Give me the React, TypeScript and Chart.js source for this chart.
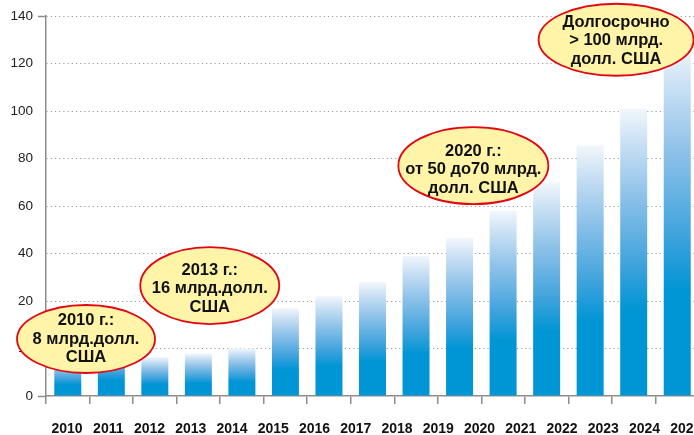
import React, { useEffect, useRef } from "react";
import { Chart, registerables, LinearScale } from "chart.js";

// ---- data ----
const years = [2010, 2011, 2012, 2013, 2014, 2015, 2016, 2017, 2018, 2019, 2020, 2021, 2022, 2023, 2024, 2025];
const barValues = [8, 11, 8.2, 8.9, 10, 18.5, 22, 28, 39, 46.5, 58, 70, 85.5, 101, 128];
const yTicks = [0, 10, 20, 40, 60, 80, 100, 120, 140];

const noteX = [2010.46, 2013.46, 2019.85, 2023.31];
const noteY = [12, 26.5, 77, 130];
const noteLines = [
  ["2010 г.:", "8 млрд.долл.", "США"],
  ["2013 г.:", "16 млрд.долл.", "США"],
  ["2020 г.:", "от 50 до70 млрд.", "долл. США"],
  ["Долгосрочно", "> 100 млрд.", "долл. США"],
];
const noteRx = [69, 69.5, 75, 77.5];
const noteRy = [34, 38.5, 38.5, 36];
const noteTextDy = [0, 3, 4, 1];

const AXIS = "#8c8c8c";
const BLUE = "#0095D5";

// y axis: 0–20 stretched (steps of 10), above 20 steps of 20, all ticks equally spaced
class BrokenScale extends LinearScale {
  static id = "broken";
  static defaults = LinearScale.defaults;
  buildTicks() {
    return yTicks.map((v) => ({ value: v }));
  }
  toUnit(v: number) {
    return v <= 20 ? v / 10 : 2 + (v - 20) / 20;
  }
  fromUnit(u: number) {
    return u <= 2 ? u * 10 : 20 + (u - 2) * 20;
  }
  getPixelForValue(value: any) {
    if (value === null || value === undefined || isNaN(value)) return NaN;
    const u0 = this.toUnit(this.min);
    const u1 = this.toUnit(this.max);
    return this.getPixelForDecimal((this.toUnit(value) - u0) / (u1 - u0));
  }
  getValueForPixel(pixel: number) {
    const d = this.getDecimalForPixel(pixel);
    const u0 = this.toUnit(this.min);
    const u1 = this.toUnit(this.max);
    return this.fromUnit(u0 + d * (u1 - u0));
  }
}

// year label axis: spans exactly the chart area
class YearScale extends LinearScale {
  static id = "yearAxis";
  static defaults = LinearScale.defaults;
  getPixelForValue(value: any) {
    const a = this.chart && this.chart.chartArea;
    if (!a) return super.getPixelForValue(value);
    if (value === null || value === undefined || isNaN(value)) return NaN;
    return a.left + ((value - this.min) / (this.max - this.min)) * (a.right - a.left);
  }
  getValueForPixel(pixel: number) {
    const a = this.chart && this.chart.chartArea;
    if (!a) return super.getValueForPixel(pixel);
    return this.min + ((pixel - a.left) / (a.right - a.left)) * (this.max - this.min);
  }
}

Chart.register(...registerables, BrokenScale as any, YearScale as any);

const notesPlugin = {
  id: "notes",
  afterDraw(chart: any) {
    const ctx = chart.ctx;
    const xs = chart.scales.x2;
    const ys = chart.scales.y;
    ctx.save();
    for (let i = 0; i < noteLines.length; i++) {
      const cx = xs.getPixelForValue(noteX[i]);
      const cy = ys.getPixelForValue(noteY[i]);
      ctx.beginPath();
      ctx.ellipse(cx, cy, noteRx[i], noteRy[i], 0, 0, Math.PI * 2);
      ctx.fillStyle = "#FFF4A8";
      ctx.fill();
      ctx.lineWidth = 1.8;
      ctx.strokeStyle = "#E30613";
      ctx.stroke();
      ctx.fillStyle = "#111";
      ctx.font = 'bold 16.5px "Liberation Sans", Arial, sans-serif';
      ctx.textAlign = "center";
      ctx.textBaseline = "middle";
      const lines = noteLines[i];
      const lh = 18.5;
      const start = cy + noteTextDy[i] - ((lines.length - 1) * lh) / 2;
      lines.forEach((t, k) => ctx.fillText(t, cx, start + k * lh));
    }
    ctx.restore();
  },
};

export default function App() {
  const ref = useRef<HTMLCanvasElement | null>(null);
  useEffect(() => {
    if (!ref.current) return;
    const chart = new Chart(ref.current, {
      type: "bar",
      data: {
        labels: barValues.map((_, i) => String(i)),
        datasets: [
          {
            data: barValues,
            xAxisID: "x",
            yAxisID: "y",
            barPercentage: 0.62,
            categoryPercentage: 1,
            borderWidth: 0,
            backgroundColor: (c: any) => {
              const ch = c.chart;
              if (!ch.chartArea || c.type !== "data") return BLUE;
              const y = ch.scales.y;
              const top = y.getPixelForValue(c.raw);
              const bottom = y.getPixelForValue(0);
              const g = ch.ctx.createLinearGradient(0, bottom, 0, top);
              g.addColorStop(0, BLUE);
              g.addColorStop(0.3, BLUE);
              g.addColorStop(0.45, "#3DA2DC");
              g.addColorStop(0.7, "#8FC2E9");
              g.addColorStop(0.88, "#C9E0F4");
              g.addColorStop(1, "#F2F7FC");
              return g;
            },
          },
        ],
      },
      options: {
        animation: false,
        responsive: false,
        devicePixelRatio: 1,
        layout: { padding: { top: 16, left: 0, right: 0, bottom: 0 } },
        plugins: { legend: { display: false }, tooltip: { enabled: false } },
        scales: {
          x: {
            type: "category",
            position: "bottom",
            weight: 0,
            offset: true,
            grid: {
              offset: true,
              drawOnChartArea: false,
              tickLength: 8,
              color: AXIS,
              lineWidth: 1.5,
            },
            border: { color: AXIS, width: 1.5 },
            ticks: { display: false },
            afterFit: (s: any) => {
              s.height = 8;
            },
          },
          x2: {
            type: "yearAxis" as any,
            position: "bottom",
            weight: 1,
            min: 2009.49,
            max: 2025.32,
            bounds: "data",
            grid: { display: false, drawTicks: false },
            border: { display: false },
            ticks: {
              autoSkip: false,
              maxRotation: 0,
              minRotation: 0,
              padding: 17,
              color: "#111",
              font: { family: '"Liberation Sans", Arial, sans-serif', size: 14, weight: "bold" },
              callback: (v: any) => String(v),
            },
            afterBuildTicks: (s: any) => {
              s.ticks = years.map((v) => ({ value: v }));
            },
            afterFit: (s: any) => {
              s.height = 31;
              s.paddingLeft = 0;
              s.paddingRight = 0;
            },
          },
          y: {
            type: "broken" as any,
            min: 0,
            max: 140,
            border: { color: AXIS, width: 1.5, dash: [1.2, 3] },
            grid: {
              color: (c: any) => (c.tick && c.tick.value === 0 ? "rgba(0,0,0,0)" : "#9a9a9a"),
              lineWidth: 1,
              tickLength: 8,
              tickWidth: 1.5,
              tickColor: (c: any) =>
                c.tick && (c.tick.value === 0 || c.tick.value === 140) ? AXIS : "rgba(0,0,0,0)",
            },
            ticks: {
              padding: 5,
              color: "#222",
              font: { family: '"Liberation Sans", Arial, sans-serif', size: 13.5 },
              callback: (v: any) => String(v),
            },
            afterFit: (s: any) => {
              s.width = 46;
            },
          },
        },
      } as any,
      plugins: [notesPlugin],
    });
    return () => chart.destroy();
  }, []);
  return (
    <div
      style={{
        position: "fixed",
        left: 0,
        top: 0,
        width: 694,
        height: 435,
        overflow: "hidden",
        background: "#fff",
      }}
    >
      <canvas ref={ref} width={699} height={435} style={{ display: "block" }} />
    </div>
  );
}
